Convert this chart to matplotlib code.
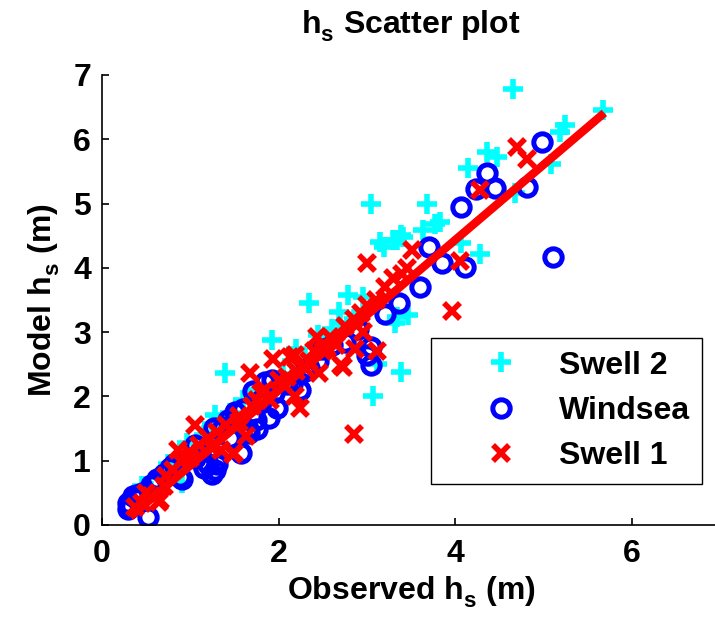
import matplotlib
matplotlib.use('Agg')
import matplotlib.pyplot as plt

# observed / model significant wave height
swell2_obs = [4.66, 5.68, 5.24, 5.19, 5.09, 4.36, 4.47, 4.15, 4.68, 3.68,
              3.77, 3.83, 3.64, 3.34, 3.41, 3.15, 4.07, 4.28, 3.47, 3.32,
              3.05, 3.30, 3.39, 3.19, 2.34, 2.79, 2.96, 2.68, 1.92, 3.39,
              1.39, 3.07, 3.34, 2.20, 3.11, 1.25, 0.96, 0.91, 0.55, 2.60,
              2.50, 2.85, 1.60, 1.75, 2.05, 2.30, 1.45, 1.15, 0.75, 0.45,
              1.28, 2.70, 2.45, 2.15]
swell2_mod = [6.79, 6.45, 6.22, 6.12, 5.62, 5.81, 5.73, 5.55, 5.16, 5.00,
              4.69, 4.72, 4.59, 4.43, 4.48, 4.41, 4.38, 4.22, 3.27, 3.14,
              5.00, 4.43, 4.51, 4.33, 3.45, 3.58, 3.55, 3.32, 2.88, 2.38,
              2.36, 2.00, 3.24, 2.74, 2.50, 1.57, 1.27, 0.65, 0.53, 3.05,
              2.85, 3.20, 1.95, 2.10, 2.35, 2.60, 1.75, 1.40, 0.95, 0.60,
              1.71, 3.15, 2.95, 2.55]

windsea_obs = [5.11, 4.98, 4.81, 4.36, 4.24, 4.45, 4.07, 4.11, 3.85, 3.70,
               3.60, 3.36, 3.20, 3.05, 3.05, 3.00, 2.49, 2.24, 2.15, 1.98,
               1.89, 1.74, 1.71, 1.85, 1.51, 1.75, 1.66, 1.58, 1.37, 1.28,
               1.15, 1.11, 0.88, 0.77, 0.56, 0.35, 0.30, 0.52, 1.27, 1.43,
               0.91, 0.60, 0.39, 0.29, 1.30, 2.60, 2.35, 1.95,
               0.33, 0.40, 0.45, 0.62, 0.70, 0.82, 1.05, 1.20, 1.25, 1.45,
               1.60, 1.80, 1.92, 2.10, 2.30, 2.45, 2.75, 2.90, 1.05, 1.65]
windsea_mod = [4.17, 5.96, 5.26, 5.47, 5.22, 5.24, 4.95, 4.02, 4.07, 4.32,
               3.71, 3.46, 3.28, 2.77, 2.49, 2.65, 2.74, 2.10, 2.19, 1.82,
               1.67, 1.63, 2.08, 2.22, 1.76, 1.50, 1.43, 1.12, 1.53, 0.86,
               0.89, 1.13, 0.75, 0.89, 0.63, 0.45, 0.34, 0.12, 1.51, 1.63,
               0.71, 0.65, 0.46, 0.25, 0.95, 2.80, 2.45, 2.05,
               0.30, 0.40, 0.50, 0.72, 0.80, 0.95, 1.05, 0.95, 0.80, 1.35,
               1.80, 1.95, 2.25, 2.20, 2.40, 2.55, 2.85, 3.05, 1.25, 1.50]

swell1_obs = [4.70, 4.81, 4.28, 4.06, 3.00, 3.51, 3.96, 3.30, 2.85, 1.05,
              1.94, 2.19, 1.68, 2.24, 2.19, 2.73, 2.87, 3.11, 2.93, 3.00,
              2.43, 2.58, 2.46, 1.48, 1.35, 0.86, 0.73, 0.65, 0.37, 1.63,
              0.98, 0.66, 1.49, 2.71, 2.96, 2.13, 2.50, 1.80, 1.20, 0.50,
              2.30, 2.05, 1.55, 0.90, 2.65, 1.75,
              0.45, 0.55, 0.80, 1.00, 1.10, 1.30, 1.40, 1.70, 1.85, 1.90,
              2.00, 2.10, 2.20, 2.35, 2.40, 2.55, 2.60, 2.75, 2.85, 3.10,
              3.20, 3.40, 3.45, 0.70, 1.25, 1.55]
swell1_mod = [5.88, 5.70, 5.21, 4.10, 4.07, 4.28, 3.33, 3.84, 1.42, 1.56,
              2.59, 2.65, 2.36, 1.82, 2.00, 2.46, 2.74, 2.71, 3.30, 3.42,
              2.93, 2.92, 2.37, 1.10, 1.17, 1.17, 0.77, 0.36, 0.28, 1.38,
              1.14, 0.39, 1.12, 2.49, 3.01, 2.62, 2.70, 2.05, 1.35, 0.50,
              2.45, 2.20, 1.70, 1.00, 2.80, 1.95,
              0.35, 0.45, 0.85, 1.05, 1.25, 1.45, 1.55, 1.85, 2.10, 1.95,
              2.25, 2.30, 2.40, 2.55, 2.70, 2.75, 2.90, 3.10, 3.20, 3.50,
              3.70, 3.90, 4.00, 0.60, 1.20, 1.60]

# fitted line end points
fit_x = [0.32, 5.69]
fit_y = [0.13, 6.41]

ticks_x = [0, 2, 4, 6]
ticks_y = [0, 1, 2, 3, 4, 5, 6, 7]

plt.rcParams['font.family'] = ['Liberation Sans', 'DejaVu Sans']
plt.rcParams['font.weight'] = 'bold'
plt.rcParams['axes.labelweight'] = 'bold'
plt.rcParams['axes.titleweight'] = 'bold'
plt.rcParams['font.size'] = 23
plt.rcParams['mathtext.fontset'] = 'custom'
plt.rcParams['mathtext.rm'] = 'Liberation Sans:bold'
plt.rcParams['mathtext.default'] = 'rm'

# empty superscript pushes the subscript lower, like the MATLAB original
hs = r'h$^{}_{s}$'

fig = plt.figure(figsize=(7.15, 6.21), dpi=100)
ax = fig.add_axes([102 / 715, 96 / 621, 618 / 715, 450 / 621])

ax.plot(swell2_obs, swell2_mod, linestyle='none', marker='+', color=(0, 1, 1),
        markersize=15, markeredgewidth=4, label='Swell 2')
ax.plot(windsea_obs, windsea_mod, linestyle='none', marker='o', color=(0, 0, 1),
        markerfacecolor='none', markersize=12.5, markeredgewidth=3.6, label='Windsea')
ax.plot(swell1_obs, swell1_mod, linestyle='none', marker='x', color=(1, 0, 0),
        markersize=11, markeredgewidth=4, label='Swell 1')
ax.plot(fit_x, fit_y, color=(1, 0, 0), linewidth=6, solid_capstyle='butt')

ax.set_xlim(0, 7)
ax.set_ylim(0, 7)
ax.set_xticks(ticks_x)
ax.set_yticks(ticks_y)
ax.spines['top'].set_visible(False)
ax.spines['right'].set_visible(False)
for side in ('left', 'bottom'):
    ax.spines[side].set_linewidth(1.2)
ax.tick_params(direction='in', length=5, width=1.2)
ax.tick_params(axis='x', pad=10)
ax.tick_params(axis='y', pad=8)

ax.set_title(hs + ' Scatter plot', fontsize=23, pad=30)
ax.set_xlabel('Observed ' + hs + ' (m)', labelpad=4)
ax.set_ylabel('Model ' + hs + ' (m)', labelpad=8)

leg = ax.legend(loc='lower left', bbox_to_anchor=(0.532, 0.091), borderaxespad=0,
                numpoints=1, handlelength=3.6, handletextpad=0.0, borderpad=0.4,
                labelspacing=0.48, fancybox=False, framealpha=1, edgecolor='black')
leg.get_frame().set_linewidth(1.0)

fig.savefig('out.png', dpi=100)
